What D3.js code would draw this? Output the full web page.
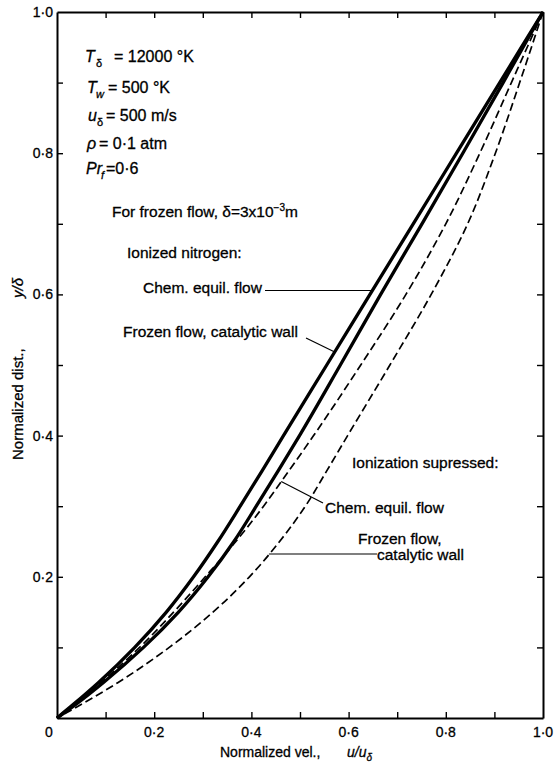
<!DOCTYPE html>
<html>
<head>
<meta charset="utf-8">
<script src="https://cdn.jsdelivr.net/npm/d3@7"></script>
<style>
  html, body { margin: 0; padding: 0; background: #fff; }
  svg { display: block; }
  text { font-family: "Liberation Sans", Arial, sans-serif; fill: #000; stroke: #000; stroke-width: 0.3px; }
</style>
</head>
<body>
<svg id="chart" width="555" height="762"></svg>
<script>
// Normalized distance levels y/δ shared by all four profiles
const yLevels = [0, 0.02, 0.05, 0.1, 0.15, 0.2, 0.25, 0.3, 0.35, 0.4, 0.5, 0.6, 0.7, 0.8, 0.9, 1.0];

// Normalized velocity u/uδ at each level
const ionizedEquil     = [0, 0.035, 0.085, 0.160, 0.225, 0.281, 0.331, 0.377, 0.422, 0.466, 0.555, 0.644, 0.733, 0.822, 0.911, 1.0];
const ionizedFrozen    = [0, 0.040, 0.095, 0.178, 0.250, 0.311, 0.364, 0.410, 0.455, 0.499, 0.583, 0.666, 0.751, 0.835, 0.918, 1.0];
const suppressedEquil  = [0, 0.038, 0.090, 0.170, 0.240, 0.305, 0.368, 0.425, 0.477, 0.528, 0.625, 0.718, 0.800, 0.870, 0.935, 1.0];
const suppressedFrozen = [0, 0.052, 0.125, 0.231, 0.321, 0.396, 0.458, 0.511, 0.555, 0.598, 0.685, 0.770, 0.845, 0.902, 0.952, 1.0];

const tickValues = [0, 0.2, 0.4, 0.6, 0.8, 1.0];
const xTickLabels = ["", "0·2", "0·4", "0·6", "0·8", "1·0"];
const yTickLabels = ["", "0·2", "0·4", "0·6", "0·8", "1·0"];
const minorTicks = d3.range(1, 10).map(i => i / 10);

const svg = d3.select("#chart");
const plotLeft = 57, plotRight = 543, plotTop = 12, plotBottom = 718;

const x = d3.scaleLinear().domain([0, 1]).range([plotLeft, plotRight]);
const y = d3.scaleLinear().domain([0, 1]).range([plotBottom, plotTop]);

// profile lines, u as a smooth function of y
const series = [
  { u: ionizedEquil,     width: 3.3, dash: null },
  { u: ionizedFrozen,    width: 3.3, dash: null },
  { u: suppressedEquil,  width: 1.7, dash: "8,4" },
  { u: suppressedFrozen, width: 1.7, dash: "8,4" }
];
const line = d3.line()
  .x(d => x(d[0]))
  .y(d => y(d[1]))
  .curve(d3.curveMonotoneY);

svg.append("g").selectAll("path")
  .data(series)
  .join("path")
  .attr("d", s => line(s.u.map((u, i) => [u, yLevels[i]]).reverse()))
  .attr("fill", "none")
  .attr("stroke", "#000")
  .attr("stroke-width", s => s.width)
  .attr("stroke-dasharray", s => s.dash)
  .attr("stroke-linejoin", "round");

// frame and inward ticks on all four sides
const axisG = svg.append("g");
const axes = [
  { axis: d3.axisBottom(x), tr: `translate(0,${plotBottom})` },
  { axis: d3.axisTop(x),    tr: `translate(0,${plotTop})` },
  { axis: d3.axisLeft(y),   tr: `translate(${plotLeft},0)` },
  { axis: d3.axisRight(y),  tr: `translate(${plotRight},0)` }
];
axes.forEach(a => {
  const g = axisG.append("g")
    .attr("transform", a.tr)
    .call(a.axis.tickValues(minorTicks).tickSize(-6).tickSizeOuter(0).tickFormat(""));
  g.select(".domain").attr("stroke", "#000").attr("stroke-width", 2);
  g.selectAll(".tick line").attr("stroke", "#000").attr("stroke-width", 1.4);
});

// tick labels
const labelSize = 14;
svg.append("g").selectAll("text")
  .data(tickValues)
  .join("text")
  .attr("x", d => x(d))
  .attr("y", plotBottom + 19)
  .attr("text-anchor", "middle")
  .attr("font-size", labelSize)
  .text((d, i) => xTickLabels[i]);

svg.append("g").selectAll("text")
  .data(tickValues)
  .join("text")
  .attr("x", plotLeft - 4)
  .attr("y", d => y(d) + 5)
  .attr("text-anchor", "end")
  .attr("font-size", labelSize)
  .text((d, i) => yTickLabels[i]);

// shared origin label
svg.append("text")
  .attr("x", x(0) - 8).attr("y", plotBottom + 19)
  .attr("text-anchor", "middle")
  .attr("font-size", labelSize)
  .text("0");

// axis titles
const xt = svg.append("text").attr("x", 220).attr("y", 757).attr("font-size", 14);
xt.append("tspan").text("Normalized vel.,");
xt.append("tspan").attr("x", 347).attr("font-style", "italic").text("u/u");
xt.append("tspan").attr("font-style", "italic").attr("font-size", 10).attr("dy", 4).text("δ");

const yt = svg.append("text")
  .attr("transform", "translate(23,460) rotate(-90)")
  .attr("font-size", 15);
yt.append("tspan").text("Normalized dist.,");
yt.append("tspan").attr("x", 162).attr("font-style", "italic").text("y/δ");

// flow conditions
const params = svg.append("g").attr("font-size", 16);
function param(yb, parts) {
  const t = params.append("text").attr("y", yb);
  parts.forEach(p => {
    const s = t.append("tspan").attr("x", p.x).text(p.t);
    if (p.it) s.attr("font-style", "italic");
    if (p.sub) s.attr("font-size", 11).attr("dy", 5);
    if (p.up) s.attr("dy", -5);
  });
}
param(62,  [{ x: 85, t: "T", it: true }, { x: 96, t: "δ", sub: true }, { x: 114, t: "= 12000 °K", up: true }]);
param(93,  [{ x: 87, t: "T", it: true }, { x: 96, t: "w", sub: true, it: true }, { x: 108, t: "= 500 °K", up: true }]);
param(121, [{ x: 88, t: "u", it: true }, { x: 97, t: "δ", sub: true }, { x: 106, t: "= 500 m/s", up: true }]);
param(149, [{ x: 87, t: "ρ", it: true }, { x: 99, t: "= 0·1 atm" }]);
param(174, [{ x: 86, t: "Pr", it: true }, { x: 101, t: "f", sub: true, it: true }, { x: 106, t: "=0·6", up: true }]);

// curve annotations
const notes = svg.append("g").attr("font-size", 15.5);
const ft = notes.append("text").attr("x", 112).attr("y", 217);
ft.append("tspan").text("For frozen flow, δ=3x10");
ft.append("tspan").attr("font-size", 10).attr("dy", -6).text("−3");
ft.append("tspan").attr("dy", 6).text("m");

notes.append("text").attr("x", 127).attr("y", 258).text("Ionized nitrogen:");
notes.append("text").attr("x", 143).attr("y", 293).text("Chem. equil. flow");
notes.append("text").attr("x", 123).attr("y", 337).text("Frozen flow, catalytic wall");
notes.append("text").attr("x", 352).attr("y", 468).text("Ionization supressed:");
notes.append("text").attr("x", 325).attr("y", 513).text("Chem. equil. flow");
notes.append("text").attr("x", 358).attr("y", 544).text("Frozen flow,");
notes.append("text").attr("x", 377).attr("y", 560).text("catalytic wall");

// leader lines end on the profile they name
function uAt(us, v) {
  return d3.scaleLinear().domain(yLevels).range(us)(v);
}
const leaders = [
  { from: [265, 290.5], curve: ionizedEquil,     v: y.invert(290.5) },
  { from: [306, 338],   curve: ionizedEquil,     v: y.invert(352) },
  { from: [323, 503],   curve: suppressedEquil,  v: y.invert(481.5) },
  { from: [377, 554],   curve: suppressedFrozen, v: y.invert(554) }
];
svg.append("g").selectAll("line")
  .data(leaders)
  .join("line")
  .attr("x1", d => d.from[0]).attr("y1", d => d.from[1])
  .attr("x2", d => x(uAt(d.curve, d.v))).attr("y2", d => y(d.v))
  .attr("stroke", "#000").attr("stroke-width", 1.2);
</script>
</body>
</html>
